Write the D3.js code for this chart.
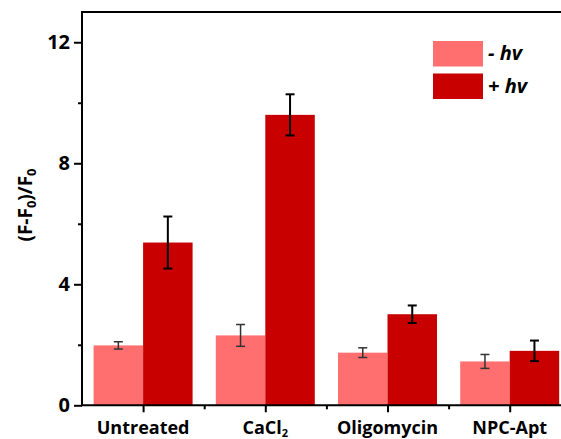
<!DOCTYPE html>
<html><head><meta charset="utf-8">
<script src="https://cdn.jsdelivr.net/npm/d3@7"></script>
<style>body{margin:0;background:#fff}svg{display:block}text{font-family:"Open Sans",sans-serif;font-weight:bold}</style>
</head><body>
<svg id="c" width="561" height="439"></svg>
<script>
const categories = ["Untreated", "CaCl2", "Oligomycin", "NPC-Apt"];
const minusHv = [1.98, 2.31, 1.74, 1.45];
const minusHvErr = [0.12, 0.36, 0.16, 0.23];
const plusHv = [5.38, 9.60, 3.01, 1.80];
const plusHvErr = [0.86, 0.68, 0.29, 0.34];
const yTicks = [0, 4, 8, 12];
const yMinor = [2, 6, 10];
const seriesNames = ["- hv", "+ hv"];
const colors = ["#FF6F6F", "#C80000"];

const svg = d3.select("#c");
const x = d3.scaleLinear().domain([0.5, 4.5]).range([82, 570.8]);
const y = d3.scaleLinear().domain([0, 13]).range([405.3, 12]);
const bw = 0.405;

const series = [
  {vals: minusHv, err: minusHvErr, off: -bw, color: colors[0], ec: "#333", ew: 1.5},
  {vals: plusHv, err: plusHvErr, off: 0, color: colors[1], ec: "#000", ew: 2}
];

series.forEach(s => {
  svg.append("g").selectAll("rect").data(s.vals).join("rect")
    .attr("x", (d, i) => x(i + 1 + s.off))
    .attr("width", x(bw) - x(0))
    .attr("y", d => y(d))
    .attr("height", d => y(0) - y(d))
    .attr("fill", s.color);
});
series.forEach(s => {
  const g = svg.append("g").attr("stroke", s.ec).attr("stroke-width", s.ew);
  s.vals.forEach((v, i) => {
    const cx = x(i + 1 + s.off + bw / 2);
    const t = y(v + s.err[i]), b = y(v - s.err[i]);
    g.append("line").attr("x1", cx).attr("x2", cx).attr("y1", t).attr("y2", b);
    g.append("line").attr("x1", cx - 4.5).attr("x2", cx + 4.5).attr("y1", t).attr("y2", t);
    g.append("line").attr("x1", cx - 4.5).attr("x2", cx + 4.5).attr("y1", b).attr("y2", b);
  });
});

// frame
svg.append("path").attr("d", `M${x(0.5)},${y(0)}V${y(13)}H${x(4.5)}V${y(0)}Z`)
  .attr("fill", "none").attr("stroke", "#000").attr("stroke-width", 2);

// y axis
const yAx = svg.append("g").attr("transform", `translate(${x(0.5)},0)`)
  .call(d3.axisLeft(y).tickValues(yTicks).tickSize(8).tickPadding(4).tickFormat(d3.format("d")));
yAx.select(".domain").remove();
yAx.selectAll("line").attr("stroke-width", 2);
yAx.selectAll("text").attr("font-size", 20).attr("fill", "#000").style("font-family", '"Open Sans",sans-serif');
const yAxm = svg.append("g").attr("transform", `translate(${x(0.5)},0)`)
  .call(d3.axisLeft(y).tickValues(yMinor).tickSize(4).tickFormat(""));
yAxm.select(".domain").remove();
yAxm.selectAll("line").attr("stroke-width", 2);

// x axis
const xAx = svg.append("g").attr("transform", `translate(0,${y(0)})`)
  .call(d3.axisBottom(x).tickValues([1, 2, 3, 4]).tickSize(7).tickFormat(""));
xAx.select(".domain").remove();
xAx.selectAll("line").attr("stroke-width", 2);
const xAxm = svg.append("g").attr("transform", `translate(0,${y(0)})`)
  .call(d3.axisBottom(x).tickValues([1.5, 2.5, 3.5]).tickSize(4).tickFormat(""));
xAxm.select(".domain").remove();
xAxm.selectAll("line").attr("stroke-width", 2);

const labG = svg.append("g").attr("font-size", 18).attr("text-anchor", "middle");
categories.forEach((c, i) => {
  const t = labG.append("text").attr("x", x(i + 1)).attr("y", 434);
  if (c === "CaCl2") {
    t.append("tspan").text("CaCl");
    t.append("tspan").text("2").attr("font-size", 11).attr("dy", 2.5);
  } else t.text(c);
});

// y title
const yt = svg.append("text").attr("transform", "translate(32,205) rotate(-90)")
  .attr("text-anchor", "middle").attr("font-size", 19);
yt.append("tspan").text("(F-F");
yt.append("tspan").text("0").attr("font-size", 13).attr("dy", 4);
yt.append("tspan").text(")/F").attr("dy", -4);
yt.append("tspan").text("0").attr("font-size", 13).attr("dy", 4);

// legend
const lg = svg.append("g");
seriesNames.forEach((n, i) => {
  lg.append("rect").attr("x", 433).attr("y", 41 + i * 32.5).attr("width", 50).attr("height", 25.5).attr("fill", colors[i]);
  const t = lg.append("text").attr("x", 488).attr("y", 60 + i * 32.5).attr("font-size", 20).attr("font-style", "italic");
  t.text(n);
});
</script>
</body></html>
